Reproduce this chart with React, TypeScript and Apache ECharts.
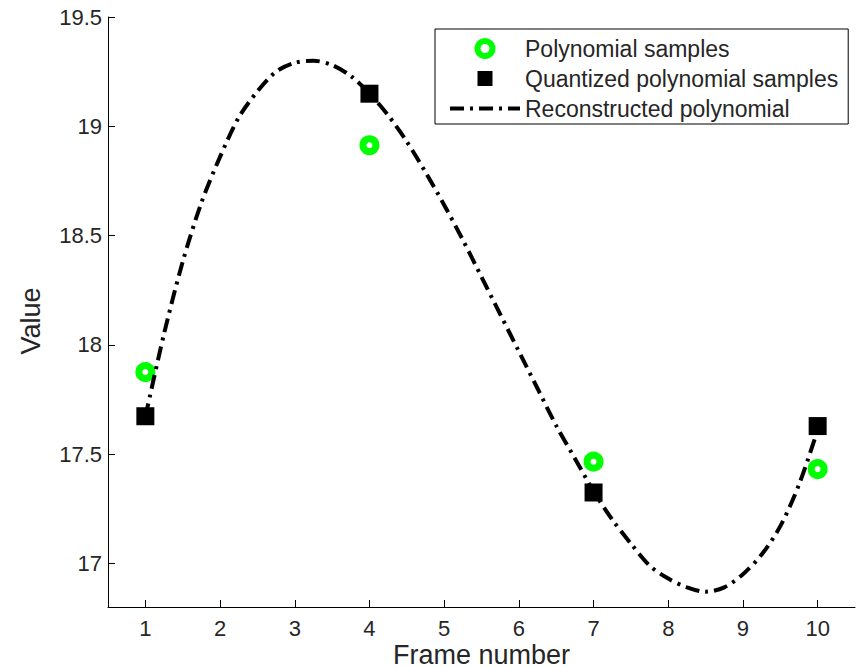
import React, { useEffect, useRef } from "react";
import * as echarts from "echarts";

// Sample positions (frame numbers)
const sampleFrames = [1, 4, 7, 10];
// Polynomial samples (green rings)
const polySamples = [17.875, 18.913, 17.465, 17.431];
// Quantized polynomial samples (black squares)
const quantSamples = [17.673, 19.149, 17.324, 17.628];
// Reconstructed polynomial (dash-dot curve)
const curveX = [
  1, 1.25, 1.5, 1.75, 2, 2.25, 2.5, 2.75, 3, 3.25, 3.5, 3.75, 4, 4.25, 4.5,
  4.75, 5, 5.25, 5.5, 5.75, 6, 6.25, 6.5, 6.75, 7, 7.25, 7.5, 7.75, 8, 8.25,
  8.5, 8.75, 9, 9.25, 9.5, 9.75, 10,
];
const curveY = [
  17.67, 18.05, 18.38, 18.65, 18.86, 19.04, 19.16, 19.25, 19.29, 19.3, 19.28,
  19.23, 19.15, 19.05, 18.93, 18.79, 18.64, 18.48, 18.31, 18.14, 17.97, 17.8,
  17.63, 17.48, 17.33, 17.2, 17.09, 16.99, 16.93, 16.89, 16.87, 16.89, 16.95,
  17.04, 17.17, 17.36, 17.61,
];
const xTicks = [1, 2, 3, 4, 5, 6, 7, 8, 9, 10];
const yTicks = [17, 17.5, 18, 18.5, 19, 19.5];

const seriesNames = [
  "Polynomial samples",
  "Quantized polynomial samples",
  "Reconstructed polynomial",
];

const FONT = "'Liberation Sans', Arial, Helvetica, sans-serif";
const TEXT = "#262626";
const GREEN = "#00ff00";
const DASH = [14, 6, 3, 6];

export default function App() {
  const ref = useRef<HTMLDivElement>(null);
  useEffect(() => {
    document.body.style.margin = "0";
    if (!ref.current) return;
    const chart = echarts.init(ref.current, null, { renderer: "svg" });
    chart.setOption({
      animation: false,
      backgroundColor: "#ffffff",
      textStyle: { fontFamily: FONT, color: TEXT },
      grid: {
        left: 108,
        right: 3,
        top: 17,
        bottom: 60,
        containLabel: false,
        outerBoundsMode: "none",
      },
      legend: {
        orient: "vertical",
        left: 435,
        top: 29,
        padding: [8, 10, 4, 13],
        itemWidth: 70,
        itemHeight: 15,
        itemGap: 7,
        borderColor: "#000",
        borderWidth: 1,
        backgroundColor: "#fff",
        textStyle: { fontSize: 23, color: TEXT, fontFamily: FONT, lineHeight: 23 },
        data: [
          {
            name: seriesNames[0],
            itemStyle: { color: "#fff", borderColor: GREEN, borderWidth: 6 },
          },
          {
            name: seriesNames[1],
            icon: "path://M0 0H10V10H0Z",
            itemStyle: { color: "#000" },
          },
          {
            name: seriesNames[2],
            itemStyle: { color: "rgba(0,0,0,0)", borderWidth: 0, opacity: 0 },
            lineStyle: { width: 4, type: DASH, color: "#000" },
          },
        ],
      },
      xAxis: {
        type: "value",
        min: 0.5,
        max: 10.5,
        name: "Frame number",
        nameLocation: "middle",
        nameGap: 37,
        nameMoveOverlap: false,
        nameTextStyle: { fontSize: 27, lineHeight: 22, color: TEXT, fontFamily: FONT },
        axisLine: { show: true, onZero: false, lineStyle: { color: "#000", width: 1 } },
        axisTick: { show: true, inside: true, length: 7, customValues: xTicks, lineStyle: { color: "#000" } },
        axisLabel: { customValues: xTicks, fontSize: 22, color: TEXT, margin: 10, fontFamily: FONT },
        splitLine: { show: false },
      },
      yAxis: {
        type: "value",
        min: 16.8,
        max: 19.5,
        name: "Value",
        nameLocation: "middle",
        nameGap: 64,
        nameMoveOverlap: false,
        nameTextStyle: { fontSize: 27, color: TEXT, fontFamily: FONT, padding: [0, 18, 0, 0] },
        axisLine: { show: true, onZero: false, lineStyle: { color: "#000", width: 1 } },
        axisTick: { show: true, inside: true, length: 7, customValues: yTicks, lineStyle: { color: "#000" } },
        axisLabel: { customValues: yTicks, fontSize: 22, color: TEXT, margin: 6, fontFamily: FONT },
        splitLine: { show: false },
      },
      series: [
        {
          name: seriesNames[0],
          type: "scatter",
          symbol: "circle",
          symbolSize: 13,
          itemStyle: { color: "#fff", borderColor: GREEN, borderWidth: 7, opacity: 1 },
          data: sampleFrames.map((x, i) => [x, polySamples[i]]),
          z: 2,
        },
        {
          name: seriesNames[2],
          type: "line",
          symbol: "none",
          showSymbol: false,
          smooth: 0.3,
          lineStyle: { color: "#000", width: 4, type: DASH },
          itemStyle: { color: "#000" },
          data: curveX.map((x, i) => [x, curveY[i]]),
          z: 3,
        },
        {
          name: seriesNames[1],
          type: "scatter",
          symbol: "rect",
          symbolSize: 18,
          itemStyle: { color: "#000", opacity: 1 },
          data: sampleFrames.map((x, i) => [x, quantSamples[i]]),
          z: 4,
        },
      ],
    });
    return () => chart.dispose();
  }, []);
  return <div ref={ref} style={{ width: 858, height: 667 }} />;
}
